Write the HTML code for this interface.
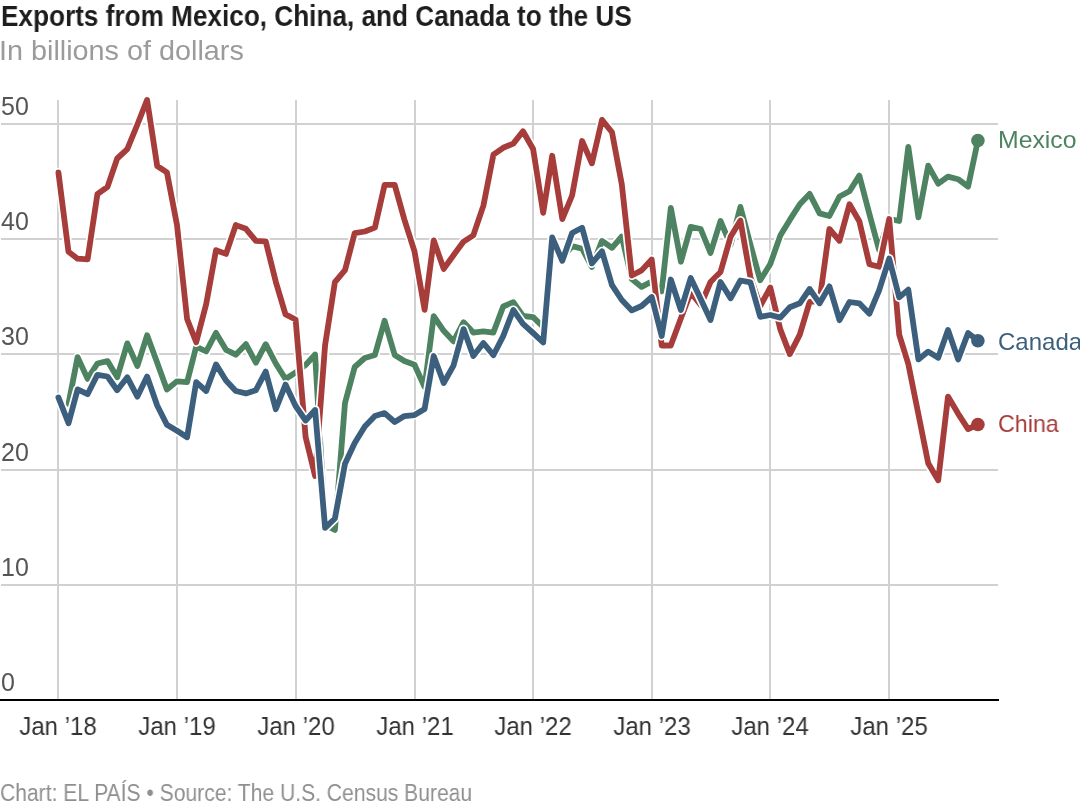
<!DOCTYPE html>
<html><head><meta charset="utf-8">
<style>
html,body{margin:0;padding:0;background:#fff;}
body{width:1080px;height:806px;position:relative;overflow:hidden;font-family:"Liberation Sans", sans-serif;}
.t{position:absolute;white-space:nowrap;line-height:1;will-change:transform;}
#title{left:1px;top:2px;font-size:29px;font-weight:bold;color:#1d1d1d;transform-origin:0 0;transform:scaleX(0.902);}
#sub{left:-1px;top:37px;font-size:28px;color:#9b9b9b;transform-origin:0 0;transform:scaleX(1.028);}
.yl{font-size:25px;color:#555;left:1px;}
.xl{font-size:25px;color:#333;}
.lab{font-size:24px;transform-origin:0 0;}
#foot{left:0px;top:782px;font-size:23.5px;color:#8f8f8f;transform-origin:0 0;transform:scaleX(0.897);}
svg{position:absolute;left:0;top:0;}
</style></head><body>
<svg width="1080" height="806" viewBox="0 0 1080 806">
<rect x="1" y="123" width="997" height="2" fill="#d1d1d1"/>
<rect x="1" y="238" width="997" height="2" fill="#d1d1d1"/>
<rect x="1" y="353" width="997" height="2" fill="#d1d1d1"/>
<rect x="1" y="469" width="997" height="2" fill="#d1d1d1"/>
<rect x="1" y="584" width="997" height="2" fill="#d1d1d1"/>
<rect x="57" y="100" width="2" height="599" fill="#d1d1d1"/>
<rect x="176" y="100" width="2" height="599" fill="#d1d1d1"/>
<rect x="295" y="100" width="2" height="599" fill="#d1d1d1"/>
<rect x="414" y="100" width="2" height="599" fill="#d1d1d1"/>
<rect x="532" y="100" width="2" height="599" fill="#d1d1d1"/>
<rect x="651" y="100" width="2" height="599" fill="#d1d1d1"/>
<rect x="769" y="100" width="2" height="599" fill="#d1d1d1"/>
<rect x="888" y="100" width="2" height="599" fill="#d1d1d1"/>
<rect x="0" y="699" width="999" height="2" fill="#000"/>
<path d="M68.5,403.9 L77.6,357.1 L87.6,378.9 L97.4,363.5 L107.5,361.1 L117.2,377.3 L127.3,343.4 L137.4,366.0 L147.1,335.3 L157.2,362.7 L166.9,389.4 L177.0,381.3 L187.1,382.1 L196.2,346.6 L206.2,351.5 L216.0,332.9 L226.0,349.8 L235.8,354.7 L245.9,344.2 L255.9,362.7 L265.7,344.2 L275.8,363.5 L285.5,379.0 L295.6,372.5 L305.6,365.0 L315.1,354.5 L325.1,525.0 L334.9,530.0 L345.0,403.0 L354.7,367.0 L364.8,358.0 L374.9,355.0 L384.6,320.8 L394.7,355.0 L404.4,361.0 L414.5,364.7 L424.6,387.0 L433.7,316.1 L443.7,330.8 L453.5,341.3 L463.6,322.2 L473.3,332.6 L483.4,331.4 L493.4,332.6 L503.2,306.5 L513.3,302.2 L523.0,316.0 L533.1,317.2 L543.2,327.0 L552.2,240.0 L562.3,258.0 L572.1,246.1 L582.1,248.7 L591.9,266.9 L602.0,240.9 L612.0,247.8 L621.8,236.5 L631.8,279.1 L641.6,286.9 L651.7,281.5 L661.7,291.3 L670.8,207.9 L680.9,261.7 L690.7,226.9 L700.7,229.0 L710.5,253.0 L720.5,221.0 L730.6,244.8 L740.4,206.9 L750.4,244.5 L760.2,280.3 L770.3,264.0 L780.3,235.6 L789.8,219.9 L799.8,204.3 L809.6,193.9 L819.6,213.4 L829.4,216.0 L839.5,196.5 L849.5,191.3 L859.3,175.6 L869.4,213.9 L879.1,250.0 L889.2,219.0 L899.2,221.0 L908.3,146.8 L918.4,217.4 L928.2,165.7 L938.2,183.6 L948.0,176.6 L958.1,179.2 L968.1,186.6 L977.9,140.5" fill="none" stroke="#fff" stroke-width="9.2" stroke-linejoin="round" stroke-linecap="round"/>
<path d="M68.5,403.9 L77.6,357.1 L87.6,378.9 L97.4,363.5 L107.5,361.1 L117.2,377.3 L127.3,343.4 L137.4,366.0 L147.1,335.3 L157.2,362.7 L166.9,389.4 L177.0,381.3 L187.1,382.1 L196.2,346.6 L206.2,351.5 L216.0,332.9 L226.0,349.8 L235.8,354.7 L245.9,344.2 L255.9,362.7 L265.7,344.2 L275.8,363.5 L285.5,379.0 L295.6,372.5 L305.6,365.0 L315.1,354.5 L325.1,525.0 L334.9,530.0 L345.0,403.0 L354.7,367.0 L364.8,358.0 L374.9,355.0 L384.6,320.8 L394.7,355.0 L404.4,361.0 L414.5,364.7 L424.6,387.0 L433.7,316.1 L443.7,330.8 L453.5,341.3 L463.6,322.2 L473.3,332.6 L483.4,331.4 L493.4,332.6 L503.2,306.5 L513.3,302.2 L523.0,316.0 L533.1,317.2 L543.2,327.0 L552.2,240.0 L562.3,258.0 L572.1,246.1 L582.1,248.7 L591.9,266.9 L602.0,240.9 L612.0,247.8 L621.8,236.5 L631.8,279.1 L641.6,286.9 L651.7,281.5 L661.7,291.3 L670.8,207.9 L680.9,261.7 L690.7,226.9 L700.7,229.0 L710.5,253.0 L720.5,221.0 L730.6,244.8 L740.4,206.9 L750.4,244.5 L760.2,280.3 L770.3,264.0 L780.3,235.6 L789.8,219.9 L799.8,204.3 L809.6,193.9 L819.6,213.4 L829.4,216.0 L839.5,196.5 L849.5,191.3 L859.3,175.6 L869.4,213.9 L879.1,250.0 L889.2,219.0 L899.2,221.0 L908.3,146.8 L918.4,217.4 L928.2,165.7 L938.2,183.6 L948.0,176.6 L958.1,179.2 L968.1,186.6 L977.9,140.5" fill="none" stroke="#4e8361" stroke-width="5.8" stroke-linejoin="round" stroke-linecap="round"/>
<path d="M58.4,172.4 L68.5,251.8 L77.6,258.7 L87.6,259.3 L97.4,194.2 L107.5,186.9 L117.2,158.5 L127.3,149.2 L137.4,124.5 L147.1,99.9 L157.2,166.0 L166.9,172.4 L177.0,225.0 L187.1,319.0 L196.2,342.3 L206.2,304.1 L216.0,250.2 L226.0,253.9 L235.8,225.1 L245.9,228.8 L255.9,240.9 L265.7,241.3 L275.8,281.8 L285.5,314.4 L295.6,319.5 L305.6,437.0 L315.1,476.0 L325.1,345.0 L334.9,282.1 L345.0,270.2 L354.7,233.1 L364.8,231.5 L374.9,227.6 L384.6,184.9 L394.7,184.9 L404.4,219.6 L414.5,251.4 L424.6,309.8 L433.7,240.3 L443.7,268.9 L453.5,255.2 L463.6,241.6 L473.3,235.4 L483.4,205.6 L493.4,154.7 L503.2,147.8 L513.3,143.6 L523.0,131.2 L533.1,149.0 L543.2,212.9 L552.2,155.8 L562.3,219.1 L572.1,195.5 L582.1,141.0 L591.9,163.3 L602.0,119.9 L612.0,132.3 L621.8,184.4 L631.8,275.5 L641.6,270.4 L651.7,259.5 L661.7,345.5 L670.8,345.5 L680.9,318.2 L690.7,292.5 L700.7,305.0 L710.5,282.0 L720.5,272.0 L730.6,236.8 L740.4,220.6 L750.4,277.1 L760.2,306.0 L770.3,287.5 L780.3,329.4 L789.8,354.1 L799.8,334.6 L809.6,302.0 L819.6,300.7 L829.4,229.0 L839.5,240.8 L849.5,204.3 L859.3,221.2 L869.4,264.2 L879.1,266.8 L889.2,219.0 L899.2,334.6 L908.3,364.0 L918.4,414.3 L928.2,463.3 L938.2,480.3 L948.0,396.6 L958.1,413.6 L968.1,429.1 L977.9,424.5" fill="none" stroke="#fff" stroke-width="9.2" stroke-linejoin="round" stroke-linecap="round"/>
<path d="M58.4,172.4 L68.5,251.8 L77.6,258.7 L87.6,259.3 L97.4,194.2 L107.5,186.9 L117.2,158.5 L127.3,149.2 L137.4,124.5 L147.1,99.9 L157.2,166.0 L166.9,172.4 L177.0,225.0 L187.1,319.0 L196.2,342.3 L206.2,304.1 L216.0,250.2 L226.0,253.9 L235.8,225.1 L245.9,228.8 L255.9,240.9 L265.7,241.3 L275.8,281.8 L285.5,314.4 L295.6,319.5 L305.6,437.0 L315.1,476.0 L325.1,345.0 L334.9,282.1 L345.0,270.2 L354.7,233.1 L364.8,231.5 L374.9,227.6 L384.6,184.9 L394.7,184.9 L404.4,219.6 L414.5,251.4 L424.6,309.8 L433.7,240.3 L443.7,268.9 L453.5,255.2 L463.6,241.6 L473.3,235.4 L483.4,205.6 L493.4,154.7 L503.2,147.8 L513.3,143.6 L523.0,131.2 L533.1,149.0 L543.2,212.9 L552.2,155.8 L562.3,219.1 L572.1,195.5 L582.1,141.0 L591.9,163.3 L602.0,119.9 L612.0,132.3 L621.8,184.4 L631.8,275.5 L641.6,270.4 L651.7,259.5 L661.7,345.5 L670.8,345.5 L680.9,318.2 L690.7,292.5 L700.7,305.0 L710.5,282.0 L720.5,272.0 L730.6,236.8 L740.4,220.6 L750.4,277.1 L760.2,306.0 L770.3,287.5 L780.3,329.4 L789.8,354.1 L799.8,334.6 L809.6,302.0 L819.6,300.7 L829.4,229.0 L839.5,240.8 L849.5,204.3 L859.3,221.2 L869.4,264.2 L879.1,266.8 L889.2,219.0 L899.2,334.6 L908.3,364.0 L918.4,414.3 L928.2,463.3 L938.2,480.3 L948.0,396.6 L958.1,413.6 L968.1,429.1 L977.9,424.5" fill="none" stroke="#a63d3a" stroke-width="5.8" stroke-linejoin="round" stroke-linecap="round"/>
<path d="M58.4,397.4 L68.5,423.2 L77.6,389.4 L87.6,394.2 L97.4,374.8 L107.5,376.5 L117.2,390.2 L127.3,377.3 L137.4,396.6 L147.1,376.5 L157.2,405.5 L166.9,424.8 L177.0,430.8 L187.1,437.2 L196.2,382.1 L206.2,391.0 L216.0,364.4 L226.0,380.5 L235.8,391.0 L245.9,393.4 L255.9,390.2 L265.7,371.6 L275.8,409.2 L285.5,384.6 L295.6,406.0 L305.6,420.5 L315.1,410.0 L325.1,527.8 L334.9,518.5 L345.0,463.7 L354.7,442.9 L364.8,426.5 L374.9,416.1 L384.6,413.1 L394.7,422.0 L404.4,416.1 L414.5,415.1 L424.6,409.1 L433.7,356.0 L443.7,383.0 L453.5,365.6 L463.6,329.1 L473.3,356.0 L483.4,343.0 L493.4,355.2 L503.2,336.1 L513.3,310.0 L523.0,323.9 L533.1,333.0 L543.2,342.5 L552.2,237.4 L562.3,260.8 L572.1,233.0 L582.1,227.8 L591.9,263.4 L602.0,251.3 L612.0,285.2 L621.8,300.0 L631.8,310.4 L641.6,306.0 L651.7,297.0 L661.7,336.0 L670.8,279.5 L680.9,310.0 L690.7,278.0 L700.7,299.0 L710.5,320.0 L720.5,282.0 L730.6,298.3 L740.4,280.5 L750.4,282.3 L760.2,316.8 L770.3,315.0 L780.3,317.6 L789.8,307.2 L799.8,303.3 L809.6,289.0 L819.6,303.3 L829.4,286.4 L839.5,320.2 L849.5,302.0 L859.3,303.3 L869.4,313.7 L879.1,290.3 L889.2,258.6 L899.2,297.4 L908.3,289.6 L918.4,359.4 L928.2,351.6 L938.2,357.8 L948.0,329.9 L958.1,359.4 L968.1,333.0 L977.9,340.8" fill="none" stroke="#fff" stroke-width="9.2" stroke-linejoin="round" stroke-linecap="round"/>
<path d="M58.4,397.4 L68.5,423.2 L77.6,389.4 L87.6,394.2 L97.4,374.8 L107.5,376.5 L117.2,390.2 L127.3,377.3 L137.4,396.6 L147.1,376.5 L157.2,405.5 L166.9,424.8 L177.0,430.8 L187.1,437.2 L196.2,382.1 L206.2,391.0 L216.0,364.4 L226.0,380.5 L235.8,391.0 L245.9,393.4 L255.9,390.2 L265.7,371.6 L275.8,409.2 L285.5,384.6 L295.6,406.0 L305.6,420.5 L315.1,410.0 L325.1,527.8 L334.9,518.5 L345.0,463.7 L354.7,442.9 L364.8,426.5 L374.9,416.1 L384.6,413.1 L394.7,422.0 L404.4,416.1 L414.5,415.1 L424.6,409.1 L433.7,356.0 L443.7,383.0 L453.5,365.6 L463.6,329.1 L473.3,356.0 L483.4,343.0 L493.4,355.2 L503.2,336.1 L513.3,310.0 L523.0,323.9 L533.1,333.0 L543.2,342.5 L552.2,237.4 L562.3,260.8 L572.1,233.0 L582.1,227.8 L591.9,263.4 L602.0,251.3 L612.0,285.2 L621.8,300.0 L631.8,310.4 L641.6,306.0 L651.7,297.0 L661.7,336.0 L670.8,279.5 L680.9,310.0 L690.7,278.0 L700.7,299.0 L710.5,320.0 L720.5,282.0 L730.6,298.3 L740.4,280.5 L750.4,282.3 L760.2,316.8 L770.3,315.0 L780.3,317.6 L789.8,307.2 L799.8,303.3 L809.6,289.0 L819.6,303.3 L829.4,286.4 L839.5,320.2 L849.5,302.0 L859.3,303.3 L869.4,313.7 L879.1,290.3 L889.2,258.6 L899.2,297.4 L908.3,289.6 L918.4,359.4 L928.2,351.6 L938.2,357.8 L948.0,329.9 L958.1,359.4 L968.1,333.0 L977.9,340.8" fill="none" stroke="#3d5f7e" stroke-width="5.8" stroke-linejoin="round" stroke-linecap="round"/>
<circle cx="977.9" cy="140.5" r="6.8" fill="#4e8361"/>
<circle cx="977.9" cy="424.5" r="6.8" fill="#a63d3a"/>
<circle cx="977.9" cy="340.8" r="6.8" fill="#3d5f7e"/>
</svg>
<div class="t" id="title">Exports from Mexico, China, and Canada to the US</div>
<div class="t" id="sub">In billions of dollars</div>
<div class="t yl" style="top:94px">50</div>
<div class="t yl" style="top:209px">40</div>
<div class="t yl" style="top:324px">30</div>
<div class="t yl" style="top:440px">20</div>
<div class="t yl" style="top:555px">10</div>
<div class="t yl" style="top:670px">0</div>
<div class="t xl" style="left:-2px;width:120px;text-align:center;top:714px;transform:scaleX(0.96)">Jan ’18</div>
<div class="t xl" style="left:117px;width:120px;text-align:center;top:714px;transform:scaleX(0.96)">Jan ’19</div>
<div class="t xl" style="left:236px;width:120px;text-align:center;top:714px;transform:scaleX(0.96)">Jan ’20</div>
<div class="t xl" style="left:355px;width:120px;text-align:center;top:714px;transform:scaleX(0.96)">Jan ’21</div>
<div class="t xl" style="left:473px;width:120px;text-align:center;top:714px;transform:scaleX(0.96)">Jan ’22</div>
<div class="t xl" style="left:592px;width:120px;text-align:center;top:714px;transform:scaleX(0.96)">Jan ’23</div>
<div class="t xl" style="left:710px;width:120px;text-align:center;top:714px;transform:scaleX(0.96)">Jan ’24</div>
<div class="t xl" style="left:829px;width:120px;text-align:center;top:714px;transform:scaleX(0.96)">Jan ’25</div>
<div class="t lab" style="left:998px;top:128px;color:#4e8361;transform:scaleX(1.033)">Mexico</div>
<div class="t lab" style="left:998px;top:330px;color:#3d5f7e">Canada</div>
<div class="t lab" style="left:998px;top:412px;color:#a63d3a;transform:scaleX(0.97)">China</div>
<div class="t" id="foot">Chart: EL PAÍS • Source: The U.S. Census Bureau</div>
</body></html>
